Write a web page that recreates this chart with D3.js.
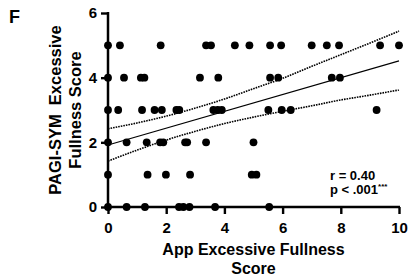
<!DOCTYPE html>
<html>
<head>
<meta charset="utf-8">
<script src="https://cdn.jsdelivr.net/npm/d3@7"></script>
<style>
  body { margin: 0; background: #fff; }
  svg text { font-family: "Liberation Sans", Arial, sans-serif; font-weight: bold; fill: #000; }
</style>
</head>
<body>
<div class="container"></div>
<script>
// scatter points (App score vs PAGI-SYM score)
var appScore = [
  0, 0.41, 1.81, 3.37, 3.54, 4.36, 4.86, 5.57, 5.95, 7.0, 7.52, 7.94, 9.35, 10,
  0, 0.55, 1.13, 1.25, 3.16, 3.79, 5.57, 5.85, 7.69, 7.97,
  0, 0.35, 1.17, 1.6, 1.85, 2.35, 2.45, 3.62, 3.77, 3.91, 5.51, 5.97, 6.28, 9.23,
  0, 0.64, 1.33, 1.79, 1.9, 2.65, 2.72, 3.37, 5.0,
  0, 1.36, 1.99, 2.82, 4.94, 5.1,
  0, 0.64, 1.27, 2.44, 2.59, 2.8, 3.68, 5.54
];
var pagiScore = [
  5, 5, 5, 5, 5, 5, 5, 5, 5, 5, 5, 5, 5, 5,
  4, 4, 4, 4, 4, 4, 4, 4, 4, 4,
  3, 3, 3, 3, 3, 3, 3, 3, 3, 3, 3, 3, 3, 3,
  2, 2, 2, 2, 2, 2, 2, 2, 2,
  1, 1, 1, 1, 1, 1,
  0, 0, 0, 0, 0, 0, 0, 0
];

// regression line and 95% band
var fitX = [0, 10];
var fitY = [1.92, 4.52];
var bandX = [0, 1, 2, 3, 4, 5, 6, 7, 8, 9, 10];
var bandUpper = [2.42, 2.60, 2.81, 3.06, 3.34, 3.66, 3.98, 4.35, 4.71, 5.07, 5.44];
var bandLower = [1.42, 1.76, 2.07, 2.34, 2.58, 2.78, 2.96, 3.13, 3.31, 3.46, 3.62];

var xTicks = [0, 2, 4, 6, 8, 10];
var yTicks = [0, 2, 4, 6];

var width = 410, height = 276;
var margin = {top: 13, right: 11, bottom: 69, left: 108};

var svg = d3.select('.container')
  .append('svg')
    .attr('width', width)
    .attr('height', height);

var x = d3.scaleLinear().domain([0, 10]).range([margin.left, width - margin.right]);
var y = d3.scaleLinear().domain([0, 6]).range([height - margin.bottom, margin.top]);

// ----------
// band + fit

var line = d3.line().curve(d3.curveMonotoneX);

[bandUpper, bandLower].forEach(function (band) {
  svg.append('path')
      .attr('fill', 'none')
      .attr('stroke', '#000')
      .attr('stroke-width', 1.6)
      .attr('stroke-dasharray', '1.6,1')
      .attr('d', line(bandX.map(function (d, i) { return [x(d), y(band[i])]; })));
});

svg.append('path')
    .attr('fill', 'none')
    .attr('stroke', '#000')
    .attr('stroke-width', 1.1)
    .attr('d', line(fitX.map(function (d, i) { return [x(d), y(fitY[i])]; })));

// ----------
// axes

var xAxis = svg.append('g')
    .attr('transform', 'translate(0,' + y(0) + ')')
    .call(d3.axisBottom(x).tickValues(xTicks).tickSize(7).tickPadding(8).tickFormat(d3.format('d')));

var yAxis = svg.append('g')
    .attr('transform', 'translate(' + x(0) + ',0)')
    .call(d3.axisLeft(y).tickValues(yTicks).tickSize(7).tickPadding(4).tickFormat(d3.format('d')));

[xAxis, yAxis].forEach(function (g) {
  g.attr('font-size', 15).attr('font-family', null);
  g.select('.domain').remove();
  g.selectAll('.tick line').attr('stroke-width', 2.4);
  g.selectAll('.tick text')
      .attr('fill', '#000')
      .style('font-size', '15px')
      .style('font-weight', '700')
      .style('font-family', '"Liberation Sans", Arial, sans-serif');
});
xAxis.append('line')
    .attr('x1', x(0) - 1).attr('x2', x(10) + 1)
    .attr('stroke', '#000').attr('stroke-width', 2.5);
yAxis.append('line')
    .attr('y1', y(0) + 1).attr('y2', y(6) - 1)
    .attr('stroke', '#000').attr('stroke-width', 2.5);

// ----------
// dots

svg.append('g')
  .selectAll('circle')
  .data(appScore)
  .enter().append('circle')
    .attr('cx', function (d) { return x(d); })
    .attr('cy', function (d, i) { return y(pagiScore[i]); })
    .attr('r', 3.9)
    .attr('fill', '#000');

// ----------
// labels

svg.append('text')
    .attr('x', 9).attr('y', 23)
    .style('font-size', '18px')
    .text('F');

var xLabel = svg.append('text')
    .attr('text-anchor', 'middle')
    .style('font-size', '16px');
xLabel.append('tspan').attr('x', (x(0) + x(10)) / 2).attr('y', 255).text('App Excessive Fullness');
xLabel.append('tspan').attr('x', (x(0) + x(10)) / 2).attr('y', 274).text('Score');

var yMid = (y(0) + y(6)) / 2;
var yLabel = svg.append('text')
    .attr('text-anchor', 'middle')
    .attr('transform', 'translate(0,' + yMid + ') rotate(-90)')
    .style('font-size', '16.5px');
yLabel.append('tspan').attr('x', 0).attr('y', 61).attr('xml:space', 'preserve').text('PAGI-SYM  Excessive');
yLabel.append('tspan').attr('x', 0).attr('y', 81).text('Fullness Score');

svg.append('text')
    .attr('x', 330).attr('y', 180)
    .style('font-size', '13px')
    .text('r = 0.40');

var pText = svg.append('text')
    .attr('x', 330).attr('y', 194)
    .style('font-size', '13px');
pText.append('tspan').text('p < .001');
pText.append('tspan').attr('dy', -5).style('font-size', '8px').text('***');
</script>
</body>
</html>
